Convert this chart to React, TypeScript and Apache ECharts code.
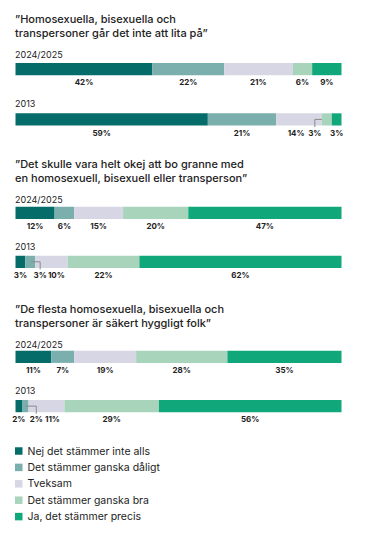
import React, { useEffect, useRef } from 'react';
import * as echarts from 'echarts';

// ---- data ----
const categories = [
  'Nej det stämmer inte alls',
  'Det stämmer ganska dåligt',
  'Tveksam',
  'Det stämmer ganska bra',
  'Ja, det stämmer precis',
];
const questions = [
  '”Homosexuella, bisexuella och\ntranspersoner går det inte att lita på”',
  '”Det skulle vara helt okej att bo granne med\nen homosexuell, bisexuell eller transperson”',
  '”De flesta homosexuella, bisexuella och\ntranspersoner är säkert hyggligt folk”',
];
const years = ['2024/2025', '2013'];
const q1_2024 = [42, 22, 21, 6, 9];
const q1_2013 = [59, 21, 14, 3, 3];
const q2_2024 = [12, 6, 15, 20, 47];
const q2_2013 = [3, 3, 10, 22, 62];
const q3_2024 = [11, 7, 19, 28, 35];
const q3_2013 = [2, 2, 11, 29, 56];
const rows = [q1_2024, q1_2013, q2_2024, q2_2013, q3_2024, q3_2013];

// ---- layout / style ----
const colors = ['#066c69', '#7aafae', '#d7d6e4', '#a9d4bc', '#10a87a'];
const FONT = 'Inter, "Noto Sans", sans-serif';
const TEXT = '#222222';
const LEFT = 15.5;
const WIDTH = 326;
const BAR_H = 12.2;
const barTops = [63, 113.3, 206.7, 255.7, 350.7, 400];
const titleTops = [11.8, 156.5, 301.9];
const yearTops = [49.2, 97.8, 193.5, 241.2, 338.5, 384.5];
// label shifts (px) and leader lines
const labelShifts: { bar: number; seg: number; dx: number; leader?: number }[] = [
  { bar: 1, seg: 0, dx: -10 },
  { bar: 1, seg: 2, dx: -3 },
  { bar: 1, seg: 3, dx: -12, leader: 0 },
  { bar: 3, seg: 1, dx: 10, leader: 0.6 },
  { bar: 3, seg: 2, dx: 5 },
  { bar: 5, seg: 1, dx: 11, leader: 0.5 },
  { bar: 5, seg: 2, dx: 6 },
];

export default function App() {
  const ref = useRef<HTMLDivElement>(null);
  useEffect(() => {
    document.body.style.margin = '0';
    if (!ref.current) return;
    const chart = echarts.init(ref.current, undefined, { renderer: 'svg' });

    const grids: any[] = [];
    const xAxes: any[] = [];
    const yAxes: any[] = [];
    const series: any[] = [];
    rows.forEach((vals, b) => {
      grids.push({ left: LEFT, width: WIDTH, top: barTops[b], height: BAR_H });
      xAxes.push({ type: 'value', gridIndex: b, min: 0, max: 100, show: false });
      yAxes.push({ type: 'category', gridIndex: b, data: [years[b % 2]], show: false });
      vals.forEach((v, k) => {
        const sh = labelShifts.find((s) => s.bar === b && s.seg === k);
        series.push({
          type: 'bar',
          name: categories[k],
          stack: 's' + b,
          xAxisIndex: b,
          yAxisIndex: b,
          barWidth: '100%',
          itemStyle: { color: colors[k] },
          label: {
            show: true,
            position: 'bottom',
            distance: 3,
            formatter: '{c}%',
            fontFamily: FONT,
            fontSize: 8,
            fontWeight: 700,
            color: TEXT,
          },
          data: [sh ? { value: v, label: { offset: [sh.dx, 0] } } : v],
        });
      });
    });

    const titles: any[] = [];
    questions.forEach((q, i) =>
      titles.push({
        text: q,
        left: 15,
        top: titleTops[i],
        padding: 0,
        textStyle: { fontFamily: FONT, fontSize: 11, fontWeight: 500, lineHeight: 14, color: TEXT },
      })
    );
    yearTops.forEach((t, b) =>
      titles.push({
        text: years[b % 2],
        left: 15,
        top: t,
        padding: 0,
        textStyle: { fontFamily: FONT, fontSize: 9, fontWeight: 400, lineHeight: 11, color: TEXT },
      })
    );

    chart.setOption({
      animation: false,
      title: titles,
      grid: grids,
      xAxis: xAxes,
      yAxis: yAxes,
      series,
      legend: {
        data: categories,
        orient: 'vertical',
        left: 15,
        top: 445,
        padding: 0,
        itemWidth: 7.5,
        itemHeight: 7.5,
        itemGap: 4.4,
        icon: 'rect',
        selectedMode: false,
        textStyle: { fontFamily: FONT, fontSize: 10.5, lineHeight: 12, color: TEXT },
      },
    });

    // leader lines computed through the axes
    const graphics: any[] = [];
    labelShifts
      .filter((s) => s.leader !== undefined)
      .forEach((s) => {
        const vals = rows[s.bar];
        const start = vals.slice(0, s.seg).reduce((a, c) => a + c, 0);
        const center = start + vals[s.seg] / 2;
        const anchorVal = start + vals[s.seg] * (s.leader as number);
        const cPt = chart.convertToPixel({ gridIndex: s.bar }, [center, 0]) as number[];
        const aPt = chart.convertToPixel({ gridIndex: s.bar }, [anchorVal, 0]) as number[];
        const lx = cPt[0] + s.dx;
        const my = cPt[1];
        const bottom = barTops[s.bar] + BAR_H + 1.5;
        graphics.push({
          type: 'polyline',
          silent: true,
          z: 100,
          shape: { points: [[aPt[0], my], [lx, my], [lx, bottom]] },
          style: { stroke: '#8a8a8a', lineWidth: 1, fill: null },
        });
      });
    chart.setOption({ graphic: graphics });

    return () => chart.dispose();
  }, []);
  return <div ref={ref} style={{ width: 372, height: 544 }} />;
}
